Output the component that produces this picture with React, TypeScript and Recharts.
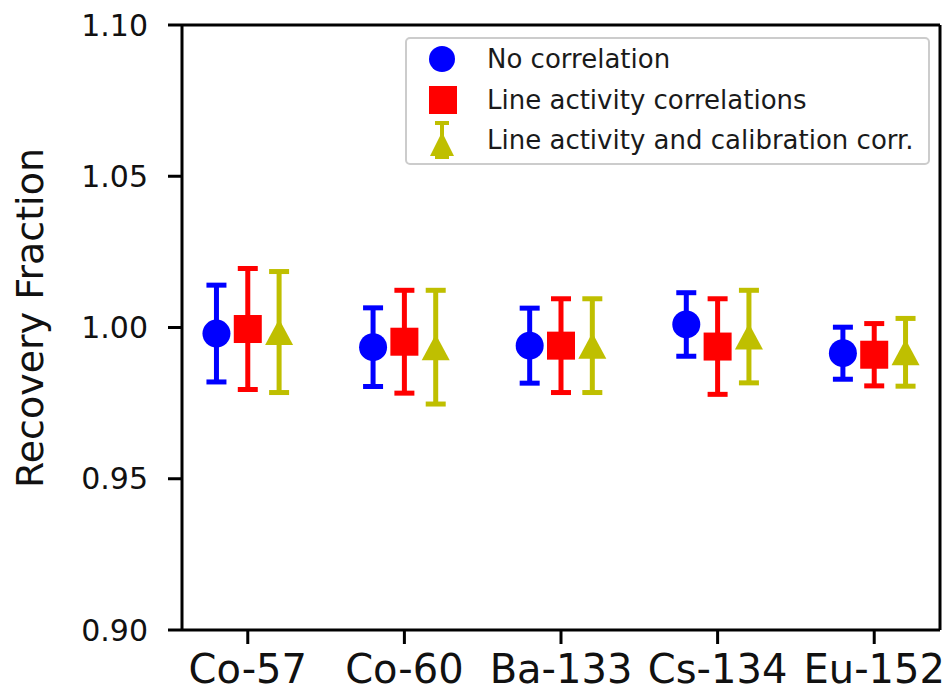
import React from 'react'
import { ScatterChart, Scatter, XAxis, YAxis, ErrorBar, ReferenceLine } from 'recharts'

const isotopes = ['Co-57', 'Co-60', 'Ba-133', 'Cs-134', 'Eu-152']

const noCorrValues = [0.998, 0.9935, 0.994, 1.001, 0.9915]
const noCorrErrors = [0.016, 0.013, 0.0124, 0.0105, 0.0086]

const lineActValues = [0.9995, 0.9953, 0.994, 0.9937, 0.991]
const lineActErrors = [0.02, 0.017, 0.0155, 0.0158, 0.0103]

const calibValues = [0.9985, 0.9935, 0.994, 0.997, 0.9918]
const calibErrors = [0.02, 0.0188, 0.0155, 0.0153, 0.0112]

const yTicks = [0.9, 0.95, 1.0, 1.05, 1.1]
const xTicks = [1, 2, 3, 4, 5]

const FONT = '"DejaVu Sans", sans-serif'
const BLUE = '#0000ff'
const RED = '#ff0000'
const YELLOW = '#bfbf00'

// each series is shifted a bit around its category, like the matplotlib original
const makeRows = (values: number[], errors: number[], shift: number) =>
  values.map((v, i) => ({ x: i + 1 + shift, y: v, err: errors[i] }))

const noCorr = makeRows(noCorrValues, noCorrErrors, -0.2)
const lineAct = makeRows(lineActValues, lineActErrors, 0)
const calib = makeRows(calibValues, calibErrors, 0.2)

const Dot = (p: any) => <circle cx={p.cx} cy={p.cy} r={14} fill={BLUE} />
const Square = (p: any) => <rect x={p.cx - 14} y={p.cy - 14} width={28} height={28} fill={RED} />
const Triangle = (p: any) => (
  <polygon points={`${p.cx},${p.cy - 13} ${p.cx - 14},${p.cy + 13} ${p.cx + 14},${p.cy + 13}`} fill={YELLOW} />
)

function LegendBox() {
  const rows = [
    { name: 'No correlation', kind: 'circle' },
    { name: 'Line activity correlations', kind: 'square' },
    { name: 'Line activity and calibration corr.', kind: 'triangle' },
  ]
  return (
    <div
      style={{
        position: 'absolute',
        left: 405,
        top: 37,
        width: 521,
        height: 124,
        border: '2px solid #cccccc',
        borderRadius: 5,
        background: 'rgba(255,255,255,0.8)',
        fontFamily: FONT,
        fontSize: 26,
        color: '#1a1a1a',
      }}
    >
      {rows.map((r) => (
        <div key={r.name} style={{ display: 'flex', alignItems: 'center', height: 40.5 }}>
          <svg width={80} height={40} style={{ flex: 'none' }}>
            {r.kind === 'circle' && <circle cx={35} cy={20} r={13} fill={BLUE} />}
            {r.kind === 'square' && <rect x={22} y={6} width={28} height={28} fill={RED} />}
            {r.kind === 'triangle' && (
              <g>
                <line x1={35} x2={35} y1={3} y2={37} stroke={YELLOW} strokeWidth={4} />
                <line x1={28} x2={42} y1={3} y2={3} stroke={YELLOW} strokeWidth={4} />
                <line x1={28} x2={42} y1={37} y2={37} stroke={YELLOW} strokeWidth={4} />
                <polygon points="35,12 23,36 47,36" fill={YELLOW} />
              </g>
            )}
          </svg>
          <span>{r.name}</span>
        </div>
      ))}
    </div>
  )
}

export default function App() {
  return (
    <div style={{ position: 'absolute', left: 0, top: 0, width: 948, height: 697, background: '#fff' }}>
      <ScatterChart width={948} height={697} margin={{ top: 25, right: 8, bottom: 0, left: 0 }}>
        <XAxis
          type="number"
          dataKey="x"
          domain={[0.58, 5.42]}
          ticks={xTicks}
          interval={0}
          allowDataOverflow
          tickFormatter={(v: number) => isotopes[v - 1]}
          axisLine={{ stroke: '#000', strokeWidth: 3 }}
          tickLine={{ stroke: '#000', strokeWidth: 3 }}
          tickSize={14}
          tickMargin={11}
          tick={{ fontSize: 40, fill: '#111', fontFamily: FONT }}
          height={67}
        />
        <YAxis
          type="number"
          dataKey="y"
          domain={[0.9, 1.1]}
          ticks={yTicks}
          interval={0}
          allowDataOverflow
          tickFormatter={(v: number) => v.toFixed(2)}
          axisLine={{ stroke: '#000', strokeWidth: 3 }}
          tickLine={{ stroke: '#000', strokeWidth: 3 }}
          tickSize={14}
          tickMargin={20}
          tick={{ fontSize: 30, fill: '#111', fontFamily: FONT }}
          width={182}
          label={{
            content: () => (
              <text
                x={30}
                y={318}
                transform="rotate(-90 30 318)"
                textAnchor="middle"
                dominantBaseline="central"
                fontSize={38}
                fontFamily={FONT}
                fill="#111"
              >
                Recovery Fraction
              </text>
            ),
          }}
        />
        <ReferenceLine y={1.1} stroke="#000" strokeWidth={3} />
        <ReferenceLine x={5.42} stroke="#000" strokeWidth={3} />
        <Scatter name="No correlation" data={noCorr} shape={Dot} isAnimationActive={false}>
          <ErrorBar dataKey="err" direction="y" width={10} strokeWidth={5} stroke={BLUE} isAnimationActive={false} />
        </Scatter>
        <Scatter name="Line activity correlations" data={lineAct} shape={Square} isAnimationActive={false}>
          <ErrorBar dataKey="err" direction="y" width={10} strokeWidth={5} stroke={RED} isAnimationActive={false} />
        </Scatter>
        <Scatter name="Line activity and calibration corr." data={calib} shape={Triangle} isAnimationActive={false}>
          <ErrorBar dataKey="err" direction="y" width={10} strokeWidth={5} stroke={YELLOW} isAnimationActive={false} />
        </Scatter>
      </ScatterChart>
      <LegendBox />
    </div>
  )
}
